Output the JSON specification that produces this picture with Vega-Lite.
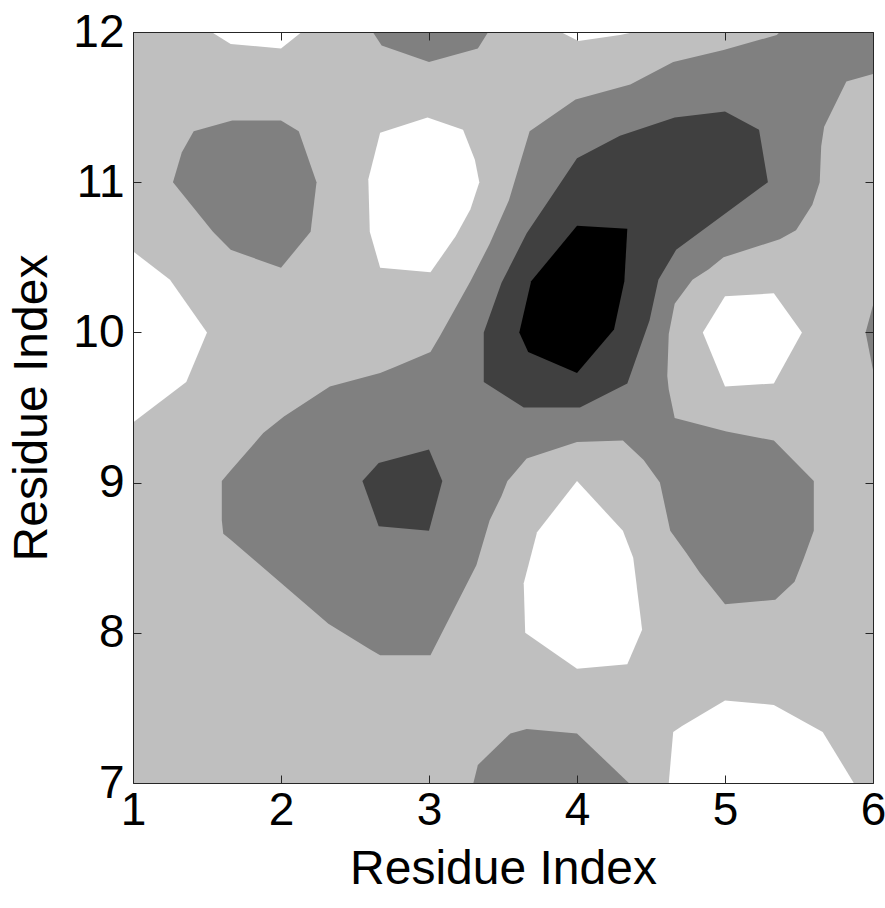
{
  "$schema": "https://vega.github.io/schema/vega-lite/v6.json",
  "width": 740,
  "height": 751,
  "autosize": "none",
  "padding": {"left": 133, "top": 32, "right": 12, "bottom": 125},
  "background": "white",
  "config": {
    "view": {"stroke": null},
    "axis": {
      "labelFont": "Liberation Sans", "titleFont": "Liberation Sans",
      "labelFontSize": 46, "titleFontSize": 48, "labelColor": "black", "titleColor": "black",
      "titleFontWeight": "normal", "grid": false, "domain": true, "domainColor": "#262626", "domainWidth": 1,
      "tickSize": -8, "tickColor": "#262626", "tickWidth": 1
    }
  },
  "data": {"values": [
    {"shape":"bg","level":4,"i":0,"x":1,"y":7},
    {"shape":"bg","level":4,"i":1,"x":6,"y":7},
    {"shape":"bg","level":4,"i":2,"x":6,"y":12},
    {"shape":"bg","level":4,"i":3,"x":1,"y":12},

    {"shape":"m1","level":3,"i":0,"x":1.27,"y":11.0},
    {"shape":"m1","level":3,"i":1,"x":1.33,"y":11.2},
    {"shape":"m1","level":3,"i":2,"x":1.41,"y":11.34},
    {"shape":"m1","level":3,"i":3,"x":1.67,"y":11.41},
    {"shape":"m1","level":3,"i":4,"x":2.0,"y":11.41},
    {"shape":"m1","level":3,"i":5,"x":2.12,"y":11.34},
    {"shape":"m1","level":3,"i":6,"x":2.24,"y":11.0},
    {"shape":"m1","level":3,"i":7,"x":2.2,"y":10.67},
    {"shape":"m1","level":3,"i":8,"x":2.0,"y":10.43},
    {"shape":"m1","level":3,"i":9,"x":1.66,"y":10.55},
    {"shape":"m1","level":3,"i":10,"x":1.54,"y":10.67},

    {"shape":"m2","level":3,"i":0,"x":2.62,"y":12},
    {"shape":"m2","level":3,"i":1,"x":2.68,"y":11.91},
    {"shape":"m2","level":3,"i":2,"x":3.0,"y":11.8},
    {"shape":"m2","level":3,"i":3,"x":3.33,"y":11.89},
    {"shape":"m2","level":3,"i":4,"x":3.4,"y":12},

    {"shape":"m3","level":3,"i":0,"x":5.37,"y":12},
    {"shape":"m3","level":3,"i":1,"x":6,"y":12},
    {"shape":"m3","level":3,"i":2,"x":6,"y":11.72},
    {"shape":"m3","level":3,"i":3,"x":5.82,"y":11.67},
    {"shape":"m3","level":3,"i":4,"x":5.67,"y":11.37},
    {"shape":"m3","level":3,"i":5,"x":5.65,"y":11.24},
    {"shape":"m3","level":3,"i":6,"x":5.64,"y":11.0},
    {"shape":"m3","level":3,"i":7,"x":5.59,"y":10.85},
    {"shape":"m3","level":3,"i":8,"x":5.48,"y":10.68},
    {"shape":"m3","level":3,"i":9,"x":5.37,"y":10.62},
    {"shape":"m3","level":3,"i":10,"x":4.99,"y":10.5},
    {"shape":"m3","level":3,"i":11,"x":4.89,"y":10.42},
    {"shape":"m3","level":3,"i":12,"x":4.78,"y":10.35},
    {"shape":"m3","level":3,"i":13,"x":4.66,"y":10.19},
    {"shape":"m3","level":3,"i":14,"x":4.62,"y":9.99},
    {"shape":"m3","level":3,"i":15,"x":4.61,"y":9.71},
    {"shape":"m3","level":3,"i":16,"x":4.62,"y":9.62},
    {"shape":"m3","level":3,"i":17,"x":4.66,"y":9.43},
    {"shape":"m3","level":3,"i":18,"x":5.01,"y":9.34},
    {"shape":"m3","level":3,"i":19,"x":5.33,"y":9.28},
    {"shape":"m3","level":3,"i":20,"x":5.46,"y":9.15},
    {"shape":"m3","level":3,"i":21,"x":5.6,"y":9.01},
    {"shape":"m3","level":3,"i":22,"x":5.6,"y":8.68},
    {"shape":"m3","level":3,"i":23,"x":5.53,"y":8.49},
    {"shape":"m3","level":3,"i":24,"x":5.47,"y":8.34},
    {"shape":"m3","level":3,"i":25,"x":5.34,"y":8.22},
    {"shape":"m3","level":3,"i":26,"x":5.0,"y":8.19},
    {"shape":"m3","level":3,"i":27,"x":4.96,"y":8.24},
    {"shape":"m3","level":3,"i":28,"x":4.83,"y":8.4},
    {"shape":"m3","level":3,"i":29,"x":4.74,"y":8.53},
    {"shape":"m3","level":3,"i":30,"x":4.63,"y":8.68},
    {"shape":"m3","level":3,"i":31,"x":4.56,"y":9.0},
    {"shape":"m3","level":3,"i":32,"x":4.45,"y":9.15},
    {"shape":"m3","level":3,"i":33,"x":4.31,"y":9.28},
    {"shape":"m3","level":3,"i":34,"x":4.0,"y":9.27},
    {"shape":"m3","level":3,"i":35,"x":3.66,"y":9.16},
    {"shape":"m3","level":3,"i":36,"x":3.53,"y":9.01},
    {"shape":"m3","level":3,"i":37,"x":3.49,"y":8.91},
    {"shape":"m3","level":3,"i":38,"x":3.41,"y":8.75},
    {"shape":"m3","level":3,"i":39,"x":3.32,"y":8.45},
    {"shape":"m3","level":3,"i":40,"x":3.01,"y":7.85},
    {"shape":"m3","level":3,"i":41,"x":2.67,"y":7.85},
    {"shape":"m3","level":3,"i":42,"x":2.6,"y":7.89},
    {"shape":"m3","level":3,"i":43,"x":2.32,"y":8.06},
    {"shape":"m3","level":3,"i":44,"x":1.66,"y":8.62},
    {"shape":"m3","level":3,"i":45,"x":1.61,"y":8.66},
    {"shape":"m3","level":3,"i":46,"x":1.6,"y":8.75},
    {"shape":"m3","level":3,"i":47,"x":1.6,"y":9.01},
    {"shape":"m3","level":3,"i":48,"x":1.66,"y":9.08},
    {"shape":"m3","level":3,"i":49,"x":1.88,"y":9.33},
    {"shape":"m3","level":3,"i":50,"x":2.02,"y":9.44},
    {"shape":"m3","level":3,"i":51,"x":2.33,"y":9.64},
    {"shape":"m3","level":3,"i":52,"x":2.67,"y":9.73},
    {"shape":"m3","level":3,"i":53,"x":2.77,"y":9.77},
    {"shape":"m3","level":3,"i":54,"x":3.01,"y":9.87},
    {"shape":"m3","level":3,"i":55,"x":3.07,"y":9.97},
    {"shape":"m3","level":3,"i":56,"x":3.28,"y":10.34},
    {"shape":"m3","level":3,"i":57,"x":3.41,"y":10.59},
    {"shape":"m3","level":3,"i":58,"x":3.54,"y":10.88},
    {"shape":"m3","level":3,"i":59,"x":3.68,"y":11.34},
    {"shape":"m3","level":3,"i":60,"x":3.99,"y":11.55},
    {"shape":"m3","level":3,"i":61,"x":4.36,"y":11.65},
    {"shape":"m3","level":3,"i":62,"x":4.65,"y":11.8},
    {"shape":"m3","level":3,"i":63,"x":4.99,"y":11.88},
    {"shape":"m3","level":3,"i":64,"x":5.35,"y":11.98},

    {"shape":"m4","level":3,"i":0,"x":3.3,"y":7},
    {"shape":"m4","level":3,"i":1,"x":3.33,"y":7.12},
    {"shape":"m4","level":3,"i":2,"x":3.55,"y":7.33},
    {"shape":"m4","level":3,"i":3,"x":3.66,"y":7.36},
    {"shape":"m4","level":3,"i":4,"x":4.0,"y":7.33},
    {"shape":"m4","level":3,"i":5,"x":4.35,"y":7},

    {"shape":"m5","level":3,"i":0,"x":6,"y":10.18},
    {"shape":"m5","level":3,"i":1,"x":5.95,"y":10.0},
    {"shape":"m5","level":3,"i":2,"x":6,"y":9.75},

    {"shape":"d1","level":2,"i":0,"x":4.0,"y":11.16},
    {"shape":"d1","level":2,"i":1,"x":4.29,"y":11.31},
    {"shape":"d1","level":2,"i":2,"x":4.66,"y":11.43},
    {"shape":"d1","level":2,"i":3,"x":5.0,"y":11.47},
    {"shape":"d1","level":2,"i":4,"x":5.23,"y":11.35},
    {"shape":"d1","level":2,"i":5,"x":5.29,"y":11.0},
    {"shape":"d1","level":2,"i":6,"x":4.67,"y":10.55},
    {"shape":"d1","level":2,"i":7,"x":4.55,"y":10.35},
    {"shape":"d1","level":2,"i":8,"x":4.49,"y":10.08},
    {"shape":"d1","level":2,"i":9,"x":4.34,"y":9.66},
    {"shape":"d1","level":2,"i":10,"x":4.02,"y":9.5},
    {"shape":"d1","level":2,"i":11,"x":3.64,"y":9.5},
    {"shape":"d1","level":2,"i":12,"x":3.37,"y":9.67},
    {"shape":"d1","level":2,"i":13,"x":3.37,"y":10.0},
    {"shape":"d1","level":2,"i":14,"x":3.49,"y":10.33},
    {"shape":"d1","level":2,"i":15,"x":3.66,"y":10.66},
    {"shape":"d1","level":2,"i":16,"x":3.81,"y":10.88},

    {"shape":"d2","level":2,"i":0,"x":2.66,"y":9.13},
    {"shape":"d2","level":2,"i":1,"x":3.0,"y":9.22},
    {"shape":"d2","level":2,"i":2,"x":3.09,"y":9.01},
    {"shape":"d2","level":2,"i":3,"x":3.0,"y":8.68},
    {"shape":"d2","level":2,"i":4,"x":2.66,"y":8.71},
    {"shape":"d2","level":2,"i":5,"x":2.55,"y":9.01},

    {"shape":"k1","level":1,"i":0,"x":4.0,"y":10.71},
    {"shape":"k1","level":1,"i":1,"x":4.34,"y":10.69},
    {"shape":"k1","level":1,"i":2,"x":4.32,"y":10.34},
    {"shape":"k1","level":1,"i":3,"x":4.25,"y":10.02},
    {"shape":"k1","level":1,"i":4,"x":4.0,"y":9.73},
    {"shape":"k1","level":1,"i":5,"x":3.67,"y":9.87},
    {"shape":"k1","level":1,"i":6,"x":3.61,"y":10.0},
    {"shape":"k1","level":1,"i":7,"x":3.69,"y":10.34},

    {"shape":"w1","level":5,"i":0,"x":1.53,"y":12},
    {"shape":"w1","level":5,"i":1,"x":1.66,"y":11.92},
    {"shape":"w1","level":5,"i":2,"x":2.0,"y":11.89},
    {"shape":"w1","level":5,"i":3,"x":2.14,"y":12},

    {"shape":"w2","level":5,"i":0,"x":3.89,"y":12},
    {"shape":"w2","level":5,"i":1,"x":4.01,"y":11.94},
    {"shape":"w2","level":5,"i":2,"x":4.29,"y":11.98},
    {"shape":"w2","level":5,"i":3,"x":4.39,"y":12},

    {"shape":"w3","level":5,"i":0,"x":2.99,"y":11.43},
    {"shape":"w3","level":5,"i":1,"x":3.23,"y":11.35},
    {"shape":"w3","level":5,"i":2,"x":3.31,"y":11.15},
    {"shape":"w3","level":5,"i":3,"x":3.34,"y":11.0},
    {"shape":"w3","level":5,"i":4,"x":3.28,"y":10.82},
    {"shape":"w3","level":5,"i":5,"x":3.18,"y":10.64},
    {"shape":"w3","level":5,"i":6,"x":3.01,"y":10.4},
    {"shape":"w3","level":5,"i":7,"x":2.67,"y":10.43},
    {"shape":"w3","level":5,"i":8,"x":2.6,"y":10.67},
    {"shape":"w3","level":5,"i":9,"x":2.59,"y":11.02},
    {"shape":"w3","level":5,"i":10,"x":2.67,"y":11.33},

    {"shape":"w4","level":5,"i":0,"x":1,"y":10.54},
    {"shape":"w4","level":5,"i":1,"x":1.25,"y":10.35},
    {"shape":"w4","level":5,"i":2,"x":1.5,"y":10.0},
    {"shape":"w4","level":5,"i":3,"x":1.36,"y":9.67},
    {"shape":"w4","level":5,"i":4,"x":1,"y":9.4},

    {"shape":"w5","level":5,"i":0,"x":5.0,"y":10.24},
    {"shape":"w5","level":5,"i":1,"x":5.33,"y":10.26},
    {"shape":"w5","level":5,"i":2,"x":5.52,"y":10.0},
    {"shape":"w5","level":5,"i":3,"x":5.33,"y":9.66},
    {"shape":"w5","level":5,"i":4,"x":5.0,"y":9.64},
    {"shape":"w5","level":5,"i":5,"x":4.85,"y":10.0},

    {"shape":"w6","level":5,"i":0,"x":4.0,"y":9.01},
    {"shape":"w6","level":5,"i":1,"x":4.31,"y":8.68},
    {"shape":"w6","level":5,"i":2,"x":4.38,"y":8.5},
    {"shape":"w6","level":5,"i":3,"x":4.44,"y":8.02},
    {"shape":"w6","level":5,"i":4,"x":4.34,"y":7.79},
    {"shape":"w6","level":5,"i":5,"x":4.0,"y":7.76},
    {"shape":"w6","level":5,"i":6,"x":3.65,"y":8.0},
    {"shape":"w6","level":5,"i":7,"x":3.64,"y":8.33},
    {"shape":"w6","level":5,"i":8,"x":3.73,"y":8.67},

    {"shape":"w7","level":5,"i":0,"x":4.62,"y":7},
    {"shape":"w7","level":5,"i":1,"x":4.65,"y":7.34},
    {"shape":"w7","level":5,"i":2,"x":4.71,"y":7.38},
    {"shape":"w7","level":5,"i":3,"x":5.0,"y":7.55},
    {"shape":"w7","level":5,"i":4,"x":5.33,"y":7.52},
    {"shape":"w7","level":5,"i":5,"x":5.66,"y":7.34},
    {"shape":"w7","level":5,"i":6,"x":5.87,"y":7}
  ]},
  "encoding": {
    "detail": {"field": "shape"},
    "order": {"field": "i", "type": "quantitative"},
    "color": {"field": "level", "type": "ordinal", "scale": {"domain": [1, 2, 3, 4, 5], "range": ["#000000", "#404040", "#808080", "#bfbfbf", "#ffffff"]}, "legend": null}
  },
  "layer": [
    {
      "transform": [{"filter": "datum.level == 4"}],
      "mark": {"type": "line", "filled": true, "interpolate": "linear-closed", "clip": true, "opacity": 1, "fillOpacity": 1},
      "encoding": {
        "x": {"field": "x", "type": "quantitative", "scale": {"domain": [1, 6], "nice": false, "zero": false},
              "axis": {"orient": "bottom", "title": "Residue Index", "values": [1, 2, 3, 4, 5, 6], "format": "d", "labelPadding": 13, "titlePadding": 12, "labelFlush": false, "zindex": 2}},
        "y": {"field": "y", "type": "quantitative", "scale": {"domain": [7, 12], "nice": false, "zero": false},
              "axis": {"orient": "left", "title": "Residue Index", "values": [7, 8, 9, 10, 11, 12], "format": "d", "labelPadding": 17, "titlePadding": 16, "labelFlush": false, "zindex": 2}}
      }
    },
    {
      "transform": [{"filter": "datum.level == 3"}],
      "mark": {"type": "line", "filled": true, "interpolate": "linear-closed", "clip": true, "opacity": 1, "fillOpacity": 1},
      "encoding": {
        "x": {"field": "x", "type": "quantitative", "axis": null},
        "y": {"field": "y", "type": "quantitative", "axis": null}
      }
    },
    {
      "transform": [{"filter": "datum.level == 2"}],
      "mark": {"type": "line", "filled": true, "interpolate": "linear-closed", "clip": true, "opacity": 1, "fillOpacity": 1},
      "encoding": {
        "x": {"field": "x", "type": "quantitative", "axis": null},
        "y": {"field": "y", "type": "quantitative", "axis": null}
      }
    },
    {
      "transform": [{"filter": "datum.level == 1"}],
      "mark": {"type": "line", "filled": true, "interpolate": "linear-closed", "clip": true, "opacity": 1, "fillOpacity": 1},
      "encoding": {
        "x": {"field": "x", "type": "quantitative", "axis": null},
        "y": {"field": "y", "type": "quantitative", "axis": null}
      }
    },
    {
      "transform": [{"filter": "datum.level == 5"}],
      "mark": {"type": "line", "filled": true, "interpolate": "linear-closed", "clip": true, "opacity": 1, "fillOpacity": 1},
      "encoding": {
        "x": {"field": "x", "type": "quantitative", "axis": {"orient": "top", "labels": false, "title": null, "values": [1, 2, 3, 4, 5, 6], "zindex": 2}},
        "y": {"field": "y", "type": "quantitative", "axis": {"orient": "right", "labels": false, "title": null, "values": [7, 8, 9, 10, 11, 12], "zindex": 2}}
      }
    }
  ],
  "resolve": {"axis": {"x": "independent", "y": "independent"}}
}
